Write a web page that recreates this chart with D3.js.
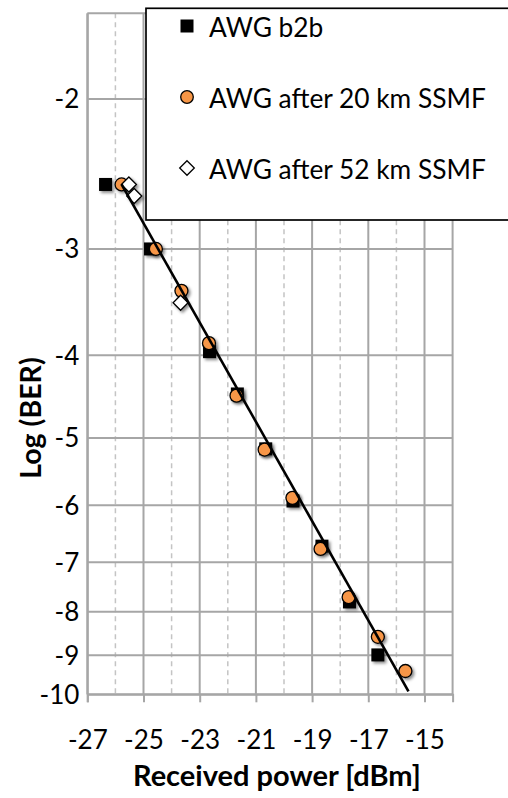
<!DOCTYPE html>
<html><head><meta charset="utf-8">
<script src="https://cdn.jsdelivr.net/npm/d3@7"></script>
<style>
body{margin:0;background:#fff}
svg{display:block}
text{font-family:Lato,"Open Sans",sans-serif;fill:#000}
</style>
</head><body>
<svg id="chart" width="508" height="798"></svg>
<script>
// ---- data ----
const seriesNames = ["AWG b2b", "AWG after 20 km SSMF", "AWG after 52 km SSMF"];
const b2b = [[-26.35,-2.52],[-24.75,-3.0],[-22.65,-3.96],[-21.66,-4.44],[-20.65,-5.15],[-19.68,-5.93],[-18.65,-6.70],[-17.67,-7.79],[-16.66,-8.99]];
const km20 = [[-25.78,-2.52],[-24.56,-3.0],[-23.65,-3.36],[-22.67,-3.87],[-21.69,-4.46],[-20.69,-5.16],[-19.70,-5.88],[-18.70,-6.75],[-17.70,-7.69],[-16.66,-8.56],[-15.68,-9.39]];
const km52 = [[-25.52,-2.52],[-25.33,-2.60],[-23.68,-3.47]];
const fitLine = [[-25.78,-2.52],[-15.57,-9.92]];
const xTickLabels = [-27,-25,-23,-21,-19,-17,-15];
const xMinorGrid = [-26,-24,-22,-20,-18,-16];
const yTickLabels = [-2,-3,-4,-5,-6,-7,-8,-9,-10];
const xDomain = [-27,-14];
const yDomain = [-1.5865,-10];

// ---- layout ----
const L = 87.3, R = 452.6, T = 13.3, B = 694.3;
const svg = d3.select("#chart");
const x = d3.scaleLinear().domain(xDomain).range([L,R]);
const y = d3.scaleLog().domain(yDomain).range([T,B]);

const defs = svg.append("defs");
const f = defs.append("filter").attr("id","sh").attr("x","-50%").attr("y","-50%").attr("width","200%").attr("height","200%");
f.append("feDropShadow").attr("dx",2).attr("dy",2).attr("stdDeviation",1.5).attr("flood-color","#000").attr("flood-opacity",0.45);

const grid = svg.append("g");
grid.selectAll(".mg").data(xMinorGrid).join("line")
  .attr("x1",d=>x(d)).attr("x2",d=>x(d)).attr("y1",T).attr("y2",B)
  .attr("stroke","#c4c4c4").attr("stroke-width",1.5).attr("stroke-dasharray","5,4");
grid.selectAll(".vg").data(xTickLabels.concat([xDomain[1]])).join("line")
  .attr("x1",d=>x(d)).attr("x2",d=>x(d)).attr("y1",T).attr("y2",B)
  .attr("stroke","#a6a6a6").attr("stroke-width",2);
grid.selectAll(".hg").data(yTickLabels.concat([yDomain[0]])).join("line")
  .attr("x1",L).attr("x2",R).attr("y1",d=>y(d)).attr("y2",d=>y(d))
  .attr("stroke","#a6a6a6").attr("stroke-width",2);

// x axis
const xAxis = d3.axisBottom(x).tickValues(xTickLabels).tickSize(8).tickFormat(d=>String(d));
const gx = svg.append("g").attr("transform",`translate(0,${B})`).call(xAxis);
gx.select(".domain").attr("stroke","#a6a6a6").attr("stroke-width",2);
gx.selectAll(".tick line").attr("stroke","#a6a6a6").attr("stroke-width",2);
gx.selectAll(".tick text").attr("font-size",26).attr("fill","#000").attr("dy",0).attr("y",55)
  .style("font-family","Lato,sans-serif");

// y axis
const yAxis = d3.axisLeft(y).tickValues(yTickLabels).tickSize(0).tickPadding(8).tickFormat(d=>String(d));
const gy = svg.append("g").attr("transform",`translate(${L},0)`).call(yAxis);
gy.select(".domain").attr("stroke","#a6a6a6").attr("stroke-width",2);
gy.selectAll(".tick text").attr("font-size",26).attr("fill","#000").attr("dy","0.34em")
  .style("font-family","Lato,sans-serif");

// markers
const sq = 13, cr = 6.5, dm = 7.5;
svg.append("g").selectAll("rect").data(b2b).join("rect")
  .attr("x",d=>x(d[0])-sq/2).attr("y",d=>y(d[1])-sq/2).attr("width",sq).attr("height",sq)
  .attr("fill","#000").attr("filter","url(#sh)");
svg.append("g").selectAll("circle").data(km20).join("circle")
  .attr("cx",d=>x(d[0])).attr("cy",d=>y(d[1])).attr("r",cr)
  .attr("fill","#f79646").attr("stroke","#000").attr("stroke-width",1.3).attr("filter","url(#sh)");
const diamond = (cx,cy,s)=>`M${cx},${cy-s}L${cx+s},${cy}L${cx},${cy+s}L${cx-s},${cy}Z`;
svg.append("g").selectAll("path").data(km52).join("path")
  .attr("d",d=>diamond(x(d[0]),y(d[1]),dm))
  .attr("fill","#fff").attr("stroke","#000").attr("stroke-width",1.3).attr("filter","url(#sh)");

// fit line
svg.append("path").datum(fitLine)
  .attr("d",d3.line().x(d=>x(d[0])).y(d=>y(d[1])))
  .attr("fill","none").attr("stroke","#000").attr("stroke-width",2.6);

// legend
const lg = svg.append("g");
lg.append("rect").attr("x",146).attr("y",8.3).attr("width",380).attr("height",211.7)
  .attr("fill","#fff").attr("stroke","#000").attr("stroke-width",1.7);
const rowsY = [26, 97, 168];
lg.append("rect").attr("x",187-6.5).attr("y",rowsY[0]-6.5).attr("width",13).attr("height",13).attr("fill","#000");
lg.append("circle").attr("cx",187).attr("cy",rowsY[1]).attr("r",6.3).attr("fill","#f79646").attr("stroke","#000").attr("stroke-width",1.3);
lg.append("path").attr("d",diamond(187,rowsY[2],7.3)).attr("fill","#fff").attr("stroke","#000").attr("stroke-width",1.3);
lg.selectAll("text").data(seriesNames).join("text")
  .attr("x",209).attr("y",(d,i)=>rowsY[i]+11).attr("font-size",26.3).text(d=>d);

// axis titles
svg.append("text").attr("x",(L+R)/2+7).attr("y",786).attr("text-anchor","middle")
  .attr("font-size",29).attr("font-weight","bold").text("Received power [dBm]");
svg.append("text").attr("transform",`translate(41,418) rotate(-90)`).attr("text-anchor","middle")
  .attr("font-size",28.5).attr("font-weight","bold").text("Log (BER)");
</script>
</body></html>
